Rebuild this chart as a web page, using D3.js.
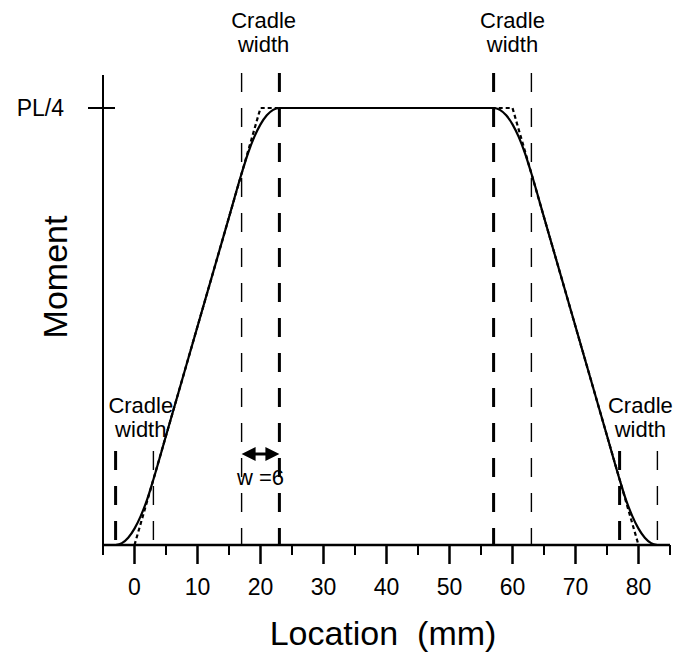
<!DOCTYPE html>
<html>
<head>
<meta charset="utf-8">
<script src="https://cdn.jsdelivr.net/npm/d3@7"></script>
<style>
  html, body { margin: 0; padding: 0; background: #fff; }
  svg text { font-family: "Liberation Sans", Arial, sans-serif; fill: #000; }
</style>
</head>
<body>
<svg id="chart" width="678" height="654"></svg>
<script>
// ---- data (moment in units of PL/4) ----
const xDomain = [-5, 85];
const yDomain = [0, 1.0755];
const majorTicks = [0, 10, 20, 30, 40, 50, 60, 70, 80];
const minorTicks = [-5, 5, 15, 25, 35, 45, 55, 65, 75, 85];
const yTickValues = [1];
const yTickLabels = ["PL/4"];

// distributed (cradle) moment curve – solid
const solidX = [-3, -2, -1, 0, 1, 2, 3, 5, 10, 15, 17, 18, 19, 20, 21, 22, 23, 40,
                57, 58, 59, 60, 61, 62, 63, 65, 70, 75, 77, 78, 79, 80, 81, 82, 83];
const solidM = [0, 0.0042, 0.0167, 0.0375, 0.0667, 0.104, 0.15, 0.25, 0.5, 0.75, 0.85, 0.8958, 0.9333, 0.9625, 0.9833, 0.9958, 1, 1,
                1, 0.9958, 0.9833, 0.9625, 0.9333, 0.8958, 0.85, 0.75, 0.5, 0.25, 0.15, 0.104, 0.0667, 0.0375, 0.0167, 0.0042, 0];
// point-load moment – dotted
const idealX = [0, 20, 60, 80];
const idealM = [0, 1, 1, 0];

// cradle edges
const fullLines = [17, 23, 57, 63];      // full-height dashed lines
const shortLines = [-3, 3, 77, 83];      // short dashed lines near supports
const heavyLines = [-3, 23, 57, 77];     // the heavier dashes
const cradleLabelX = [20.5, 60, 1, 80.3];
const cradleLabelLevel = ["top", "top", "low", "low"];
const wArrow = [17, 23];
const wLabel = "w =6";

// ---- layout ----
const svg = d3.select("#chart");
const x = d3.scaleLinear().domain(xDomain).range([103, 670]);
const y = d3.scaleLinear().domain(yDomain).range([545, 75]);

// axes
const xAxisG = svg.append("g");
xAxisG.append("line").attr("x1", x(xDomain[0])).attr("x2", x(xDomain[1]))
  .attr("y1", y(0)).attr("y2", y(0)).attr("stroke", "#000").attr("stroke-width", 2.5);
xAxisG.selectAll(".maj").data(majorTicks).join("line")
  .attr("x1", d => x(d)).attr("x2", d => x(d)).attr("y1", y(0)).attr("y2", y(0) + 19)
  .attr("stroke", "#000").attr("stroke-width", 2.5);
xAxisG.selectAll(".min").data(minorTicks).join("line")
  .attr("x1", d => x(d)).attr("x2", d => x(d)).attr("y1", y(0)).attr("y2", y(0) + 10)
  .attr("stroke", "#000").attr("stroke-width", 2);
xAxisG.selectAll("text").data(majorTicks).join("text")
  .attr("x", d => x(d)).attr("y", y(0) + 50).attr("text-anchor", "middle")
  .attr("font-size", 23).text(d => d);

svg.append("line").attr("x1", x(xDomain[0])).attr("x2", x(xDomain[0]))
  .attr("y1", y(yDomain[1])).attr("y2", y(0)).attr("stroke", "#000").attr("stroke-width", 2);
svg.selectAll(".ytick").data(yTickValues).join("line")
  .attr("x1", x(xDomain[0]) - 15).attr("x2", x(xDomain[0]) + 12)
  .attr("y1", d => y(d)).attr("y2", d => y(d)).attr("stroke", "#000").attr("stroke-width", 2);
svg.selectAll(".ylab").data(yTickValues).join("text")
  .attr("x", 64).attr("y", d => y(d) + 8).attr("text-anchor", "end")
  .attr("font-size", 23).text((d, i) => yTickLabels[i]);

// axis titles
svg.append("text").attr("x", 383).attr("y", 645).attr("text-anchor", "middle")
  .attr("font-size", 34).attr("xml:space", "preserve").text("Location  (mm)");
svg.append("text").attr("transform", "translate(67,277) rotate(-90)")
  .attr("text-anchor", "middle").attr("font-size", 34).text("Moment");

// dashed cradle lines
const dashAttrs = sel => sel
  .attr("stroke", "#000")
  .attr("stroke-width", d => heavyLines.includes(d) ? 3 : 1.4)
  .attr("stroke-dasharray", "19,16");
svg.selectAll(".full").data(fullLines).join("line")
  .attr("x1", d => x(d)).attr("x2", d => x(d)).attr("y1", 73).attr("y2", y(0))
  .call(dashAttrs);
svg.selectAll(".short").data(shortLines).join("line")
  .attr("x1", d => x(d)).attr("x2", d => x(d)).attr("y1", 451).attr("y2", y(0))
  .call(dashAttrs);

// curves
const line = d3.line().x(d => x(d[0])).y(d => y(d[1]));
svg.append("path").datum(idealX.map((v, i) => [v, idealM[i]]))
  .attr("d", line).attr("fill", "none").attr("stroke", "#000")
  .attr("stroke-width", 2.2).attr("stroke-dasharray", "4,3");
svg.append("path").datum(solidX.map((v, i) => [v, solidM[i]]))
  .attr("d", line.curve(d3.curveMonotoneX)).attr("fill", "none").attr("stroke", "#000")
  .attr("stroke-width", 2.2);

// cradle labels
cradleLabelX.forEach((v, i) => {
  const top = cradleLabelLevel[i] === "top";
  const y1 = top ? 28 : 413;
  const t = svg.append("text").attr("text-anchor", "middle").attr("font-size", 22);
  t.append("tspan").attr("x", x(v)).attr("y", y1).text("Cradle");
  t.append("tspan").attr("x", x(v)).attr("y", y1 + 24).text("width");
});

// w arrow
const ax0 = x(wArrow[0]), ax1 = x(wArrow[1]), ay = 454;
svg.append("line").attr("x1", ax0 + 8).attr("x2", ax1 - 8)
  .attr("y1", ay).attr("y2", ay).attr("stroke", "#000").attr("stroke-width", 3);
svg.append("path")
  .attr("d", `M${ax0},${ay}L${ax0 + 14},${ay - 7}L${ax0 + 14},${ay + 7}Z M${ax1},${ay}L${ax1 - 14},${ay - 7}L${ax1 - 14},${ay + 7}Z`)
  .attr("fill", "#000");
svg.append("text").attr("x", x((wArrow[0] + wArrow[1]) / 2)).attr("y", 485)
  .attr("text-anchor", "middle").attr("font-size", 22).text(wLabel);
</script>
</body>
</html>
